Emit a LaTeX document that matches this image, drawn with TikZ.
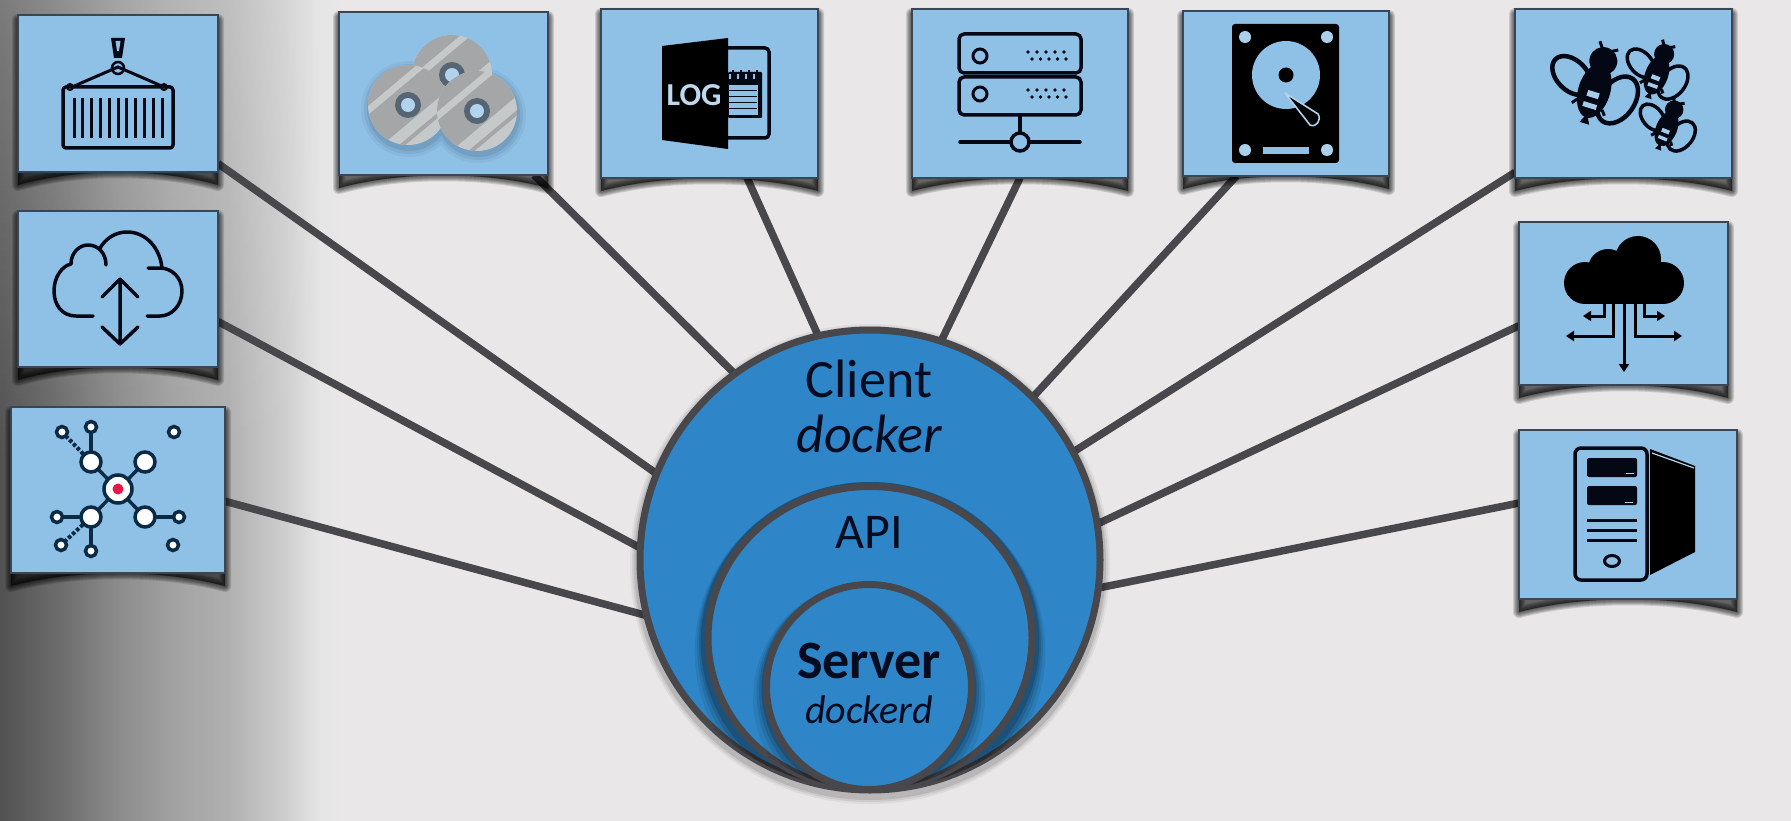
\documentclass[tikz,border=0pt]{standalone}
\usepackage{fontspec}
\setmainfont{Carlito}
\usetikzlibrary{shapes.geometric,fadings,arrows.meta}
\pgfdeclarelayer{backdrop}
\pgfdeclarelayer{conn}
\pgfsetlayers{backdrop,conn,main}
\definecolor{bgc}{HTML}{E9E7E8}
\definecolor{boxblue}{HTML}{8FC0E6}
\definecolor{boxedge}{HTML}{3A4656}
\definecolor{ringc}{HTML}{48484C}
\definecolor{ballc}{HTML}{2E86C8}
\definecolor{txtc}{HTML}{050C20}
\definecolor{navy}{HTML}{0B2A46}
\definecolor{inkc}{HTML}{040814}
\definecolor{discd}{HTML}{A4A6A8}
\definecolor{discl}{HTML}{C6C9CA}
\definecolor{holec}{HTML}{556573}
\definecolor{hotred}{HTML}{E8174A}
\pgfdeclarehorizontalshading{sidegrad}{100bp}{color(0bp)=(black!68);color(25bp)=(black!68);color(33.4bp)=(black!58);color(41.8bp)=(black!46);color(50bp)=(black!37);color(58.5bp)=(black!31);color(67bp)=(black!19);color(72bp)=(black!10);color(75bp)=(bgc);color(100bp)=(bgc)}
\tikzset{
  x=1pt,y=-1pt,
  boxstyle/.style={draw=boxedge,fill=boxblue,line width=2.5pt,inner sep=0pt,outer sep=0pt,rectangle},
  connector/.style={draw=ringc,line width=7.5pt},
  ringstyle/.style={draw=ringc,fill=ballc,line width=7pt,inner sep=0pt,outer sep=0pt},
  label/.style={anchor=base,text=txtc,inner sep=0pt},
  icon/.style={draw=inkc,line width=3.5pt,line join=round,line cap=round},
  net/.style={draw=navy,line width=3.5pt},
  netnode/.style={draw=navy,fill=white,line width=3.5pt},
}
\newcommand{\mkbox}[5]{%
  \pgfmathsetmacro{\bw}{#4-#2}\pgfmathsetmacro{\bh}{#5-#3}%
  \pgfmathsetmacro{\bq}{\bw*0.3}%
  \foreach \lw in {12,10,8,6,4,2}{
    \fill[black,opacity=.13,draw=black,line width=\lw pt,line join=round]
      (#2,#3+5) -- (#4,#3+5) -- (#4,#5+13)
      .. controls ({#4-\bq},#5-4) and ({#2+\bq},#5-4) .. (#2,#5+13) -- cycle;
  }
  \node[boxstyle,minimum width=\bw pt,minimum height=\bh pt] (#1) at ({(#2+#4)/2},{(#3+#5)/2}) {};
}
\newcommand{\bee}[5]{%
  \begin{scope}[shift={(#1,#2)},rotate=#3,scale=#4]
    \fill[inkc] (0,-25) circle[radius=14];
    \fill[inkc] (0,6) circle[x radius=16,y radius=28];
    \fill[inkc] (0,30) -- (-5,40) -- (5,40) -- cycle;
    \draw[inkc,line width=3pt] (-4,-36) -- (-9,-43) (4,-36) -- (11,-40);
    \draw[inkc,line width=3pt] (-13,18) -- (-18,24) (13,22) -- (17,27);
    \draw[inkc,line width=#5pt,rotate around={62:(-26,-2)}] (-26,-2) circle[x radius=15,y radius=23];
    \draw[inkc,line width=#5pt,rotate around={-18:(25,8)}] (25,8) circle[x radius=17,y radius=26];
    \fill[boxblue!80!white] (-6,7) rectangle (6,13);
    \fill[boxblue!80!white] (-7,19) rectangle (7,24);
  \end{scope}%
}
\newcommand{\disc}[2]{%
  \begin{scope}
    \clip (#1,#2) circle[radius=40];
    \fill[discl] (#1-45,#2-45) rectangle (#1+45,#2+45);
    \begin{scope}[shift={(#1,#2)},rotate=40]
      \fill[discd] (-60,-45) rectangle (60,-25);
      \fill[discd] (-60,-18) rectangle (60,14);
      \fill[discd] (-60,25) rectangle (60,29);
    \end{scope}
  \end{scope}
  \fill[holec] (#1,#2) circle[radius=13];
  \fill[boxblue!70!white] (#1,#2) circle[radius=7];
}
\begin{document}
\begin{tikzpicture}
\useasboundingbox (0,0) rectangle (1791,821);
\begin{pgfonlayer}{backdrop}
  \fill[bgc] (0,0) rectangle (1791,821);
  \shade[shading=sidegrad] (0,0) rectangle (340,821);
  \fill[bgc,opacity=.28,path fading=south] (0,0) rectangle (340,460);
\end{pgfonlayer}

% boxes
\mkbox{crane}{18}{15}{218}{172}
\mkbox{updown}{18}{211}{218}{367}
\mkbox{mesh}{11}{407}{225}{573}
\mkbox{discs}{339}{12}{548}{175}
\mkbox{logs}{601}{9}{818}{178}
\mkbox{rack}{912}{9}{1128}{178}
\mkbox{hdd}{1183}{11}{1389}{176}
\mkbox{bees}{1515}{9}{1732}{178}
\mkbox{spread}{1519}{222}{1728}{385}
\mkbox{tower}{1519}{430}{1737}{599}

% circles
\foreach \lw/\op in {14/.05,10/.07,6/.10}{\fill[black,opacity=\op] (870,564) circle[radius=233+\lw/2];}
\node[circle,ringstyle,minimum size=460pt] (client) at (870,560) {};
\begin{scope}
  \clip (870,560) circle[radius=230];
  \foreach \lw/\op in {22/.07,15/.09,9/.12,4/.16}{\fill[black,opacity=\op] (870,{638+\lw/2+2}) circle[x radius=168+\lw/3,y radius=158+\lw/2];}
\end{scope}
\node[ellipse,ringstyle,minimum width=324pt,minimum height=303pt] (api) at (870,638) {};
\begin{scope}
  \clip (870,638) circle[x radius=162,y radius=151.5];
  \foreach \lw/\op in {20/.07,13/.09,8/.12,3/.16}{\fill[black,opacity=\op] (869,{687+\lw/2+1}) circle[radius=106+\lw/2];}
\end{scope}
\node[circle,ringstyle,minimum size=205pt] (server) at (869,687) {};

% connectors
\begin{pgfonlayer}{conn}
  \draw[connector] (crane.-35.9) -- (client.158.4);
  \draw[connector] (updown.-18.3) -- (client.177);
  \draw[connector] (mesh.-6.9) -- (client.194);
  \draw[connector] (discs.-42.8) -- (client.126.9);
  \draw[connector] (logs.-66.6) -- (client.103.2);
  \draw[connector] (rack.-90) -- (client.72.5);
  \draw[connector] (hdd.-121.7) -- (client.45.9);
  \draw[connector] (bees.216.6) -- (client.28.8);
  \draw[connector] (spread.192) -- (client.9.6);
  \draw[connector] (tower.174.2) -- (client.-7.1);
\end{pgfonlayer}

% labels
\node[label,font=\fontsize{54}{60}\selectfont] (tclient) at (869,397) {Client};
\node[label,font=\fontsize{54}{60}\selectfont\itshape] (tdocker) at (869,452) {docker};
\node[label,font=\fontsize{50}{60}\selectfont] (tapi) at (869,548) {API};
\node[label,font=\fontsize{54}{60}\selectfont\bfseries] (tserver) at (869,678) {Server};
\node[label,font=\fontsize{40}{50}\selectfont\itshape] (tdockerd) at (869,723) {dockerd};

% icon 1: crane and container
\draw[icon,rounded corners=3pt] (63,87) rectangle (173,148);
\foreach \i in {0,...,10}{\draw[inkc,line width=3pt] ({74+\i*8.8},98) -- ({74+\i*8.8},138);}
\fill[inkc] (111,38) -- (125,38) -- (122,58) -- (114,58) -- cycle;
\fill[boxblue] (115.5,41) -- (120.5,41) -- (119,51) -- (117,51) -- cycle;
\draw[inkc,line width=2.5pt] (118,68) circle[radius=6];
\draw[inkc,line width=3pt] (72,87) -- (118,67) -- (164,87);
\draw[inkc,line width=2pt] (70,87) circle[radius=3] (164,87) circle[radius=3];

% icon 2: cloud with up-down arrow
\draw[icon] (93,316) -- (76,316) .. controls (62,316) and (54,305) .. (54,291) .. controls (54,277) and (62,266) .. (71,264) .. controls (71,252) and (80,245) .. (88,245) .. controls (98,245) and (106,253) .. (106,265);
\draw[icon] (100,248) .. controls (106,238) and (116,232) .. (127,232) .. controls (146,232) and (160,248) .. (162,268);
\draw[icon] (148,268) -- (160,268) .. controls (172,268) and (182,278) .. (182,291) .. controls (182,305) and (172,316) .. (160,316) -- (147,316);
\draw[icon] (120,279) -- (120,344) (102,297) -- (120,279) -- (138,297) (102,327) -- (120,344) -- (138,327);

% icon 3: network
\draw[net] (91,462) -- (145,517) (145,462) -- (91,517);
\draw[net] (91,462) -- (91,427) (91,517) -- (57,517) (91,517) -- (91,551) (145,517) -- (179,517);
\draw[net,dotted,line width=4pt] (91,462) -- (62,432) (91,517) -- (61,545);
\foreach \p in {(91,462),(145,462),(91,517),(145,517)}{\draw[netnode] \p circle[radius=10];}
\foreach \p in {(91,427),(62,432),(174,432),(57,517),(179,517),(61,545),(91,551),(173,545)}{\draw[netnode] \p circle[radius=5.5];}
\draw[netnode] (118,489) circle[radius=14];
\fill[hotred] (118,489) circle[radius=5.5];

% icon 4: three discs
\foreach \lw/\op in {8/.05,5/.07,2/.10}{
  \fill[navy,opacity=\op] (409,109) circle[radius=40+\lw] (478,115) circle[radius=40+\lw];
}
\disc{452}{75}
\disc{408}{105}
\disc{477}{111}

% icon 5: log door
\draw[inkc,line width=3.5pt,rounded corners=4pt] (720,48) -- (769,48) -- (769,138) -- (720,138);
\fill[inkc,rounded corners=1pt] (728,72) rectangle (762,118);
\fill[boxblue] (729,85) rectangle (758,115);
\foreach \yy in {91,97,103,109}{\draw[inkc,line width=1pt] (729,\yy) -- (757,\yy);}
\foreach \xx in {733,741,749,757}{\draw[boxblue,line width=1.6pt] (\xx-3,74) -- (\xx-3,79);\draw[inkc,line width=2pt] (\xx,70) -- (\xx,78);}
\fill[black] (662,46) -- (728,38) -- (728,149) -- (662,140) -- cycle;
\node[anchor=base,inner sep=0pt,text=boxblue!60!white,font=\fontsize{32}{36}\selectfont\bfseries] (logword) at (694,106) {LOG};

% icon 6: server rack
\draw[icon,rounded corners=5pt] (959,34) rectangle (1081,73);
\draw[icon,rounded corners=5pt] (959,77) rectangle (1081,115);
\draw[inkc,line width=3pt] (980,56) circle[radius=7];
\draw[inkc,line width=3pt] (980,94) circle[radius=7];
\foreach \yy in {52,90}{
  \foreach \i in {0,...,4}{
    \fill[inkc] ({1028+\i*9},\yy) circle[radius=1.8];
    \fill[inkc] ({1032+\i*8.5},\yy+7) circle[radius=1.8];
  }
}
\draw[icon] (1020,115) -- (1020,133) (960,142) -- (1080,142);
\draw[inkc,fill=boxblue,line width=3.5pt] (1020,142) circle[radius=9];

% icon 7: hard disk
\fill[black,rounded corners=3pt] (1232,24) rectangle (1339,163);
\foreach \p in {(1245,37),(1327,37),(1245,150),(1327,150)}{\fill[boxblue!75!white] \p circle[radius=6];}
\fill[boxblue] (1286,75) circle[radius=34];
\fill[black] (1286,75) circle[radius=7.5];
\fill[boxblue] (1263,147) rectangle (1309,154);
\fill[black,draw=boxblue!70!white,line width=1.6pt,line join=round] (1285,93) -- (1318,114) .. controls (1322,120) and (1316,128) .. (1310,125) -- cycle;

% icon 8: bees
\bee{1596}{85}{-17}{1}{4.5}
\bee{1658}{71}{-20}{.72}{3.5}
\bee{1668}{125}{-22}{.66}{3.5}

% icon 9: cloud with arrows
\fill[black] (1585,283) circle[radius=21] (1663,283) circle[radius=21] (1608,269) circle[radius=20] (1638,259) circle[radius=23];
\fill[black] (1585,270) rectangle (1663,304);
\begin{scope}[line width=3pt,draw=black,-{Triangle[length=8pt,width=10pt]}]
  \draw (1624,304) -- (1624,372);
  \draw (1613,304) -- (1613,336) -- (1566,336);
  \draw (1635,304) -- (1635,336) -- (1682,336);
  \draw (1604,304) -- (1604,316) -- (1583,316);
  \draw (1644,304) -- (1644,316) -- (1665,316);
\end{scope}

% icon 10: tower
\draw[icon,rounded corners=6pt] (1575,448) rectangle (1647,580);
\fill[inkc,rounded corners=2pt] (1587,458) rectangle (1637,477);
\fill[inkc,rounded corners=2pt] (1587,486) rectangle (1637,505);
\draw[boxblue!70!white,line width=1pt] (1626,473) -- (1634,473) (1625,502) -- (1633,502);
\foreach \yy in {520,530,540}{\draw[inkc,line width=3pt] (1587,\yy) -- (1637,\yy);}
\draw[inkc,line width=3pt] (1612,561) circle[x radius=7.5,y radius=5.5];
\fill[black] (1650,449) -- (1695,466) -- (1695,552) -- (1650,575) -- cycle;
\draw[boxblue!70!white,line width=1.2pt] (1652,453) -- (1694,468);
\end{tikzpicture}
\end{document}
